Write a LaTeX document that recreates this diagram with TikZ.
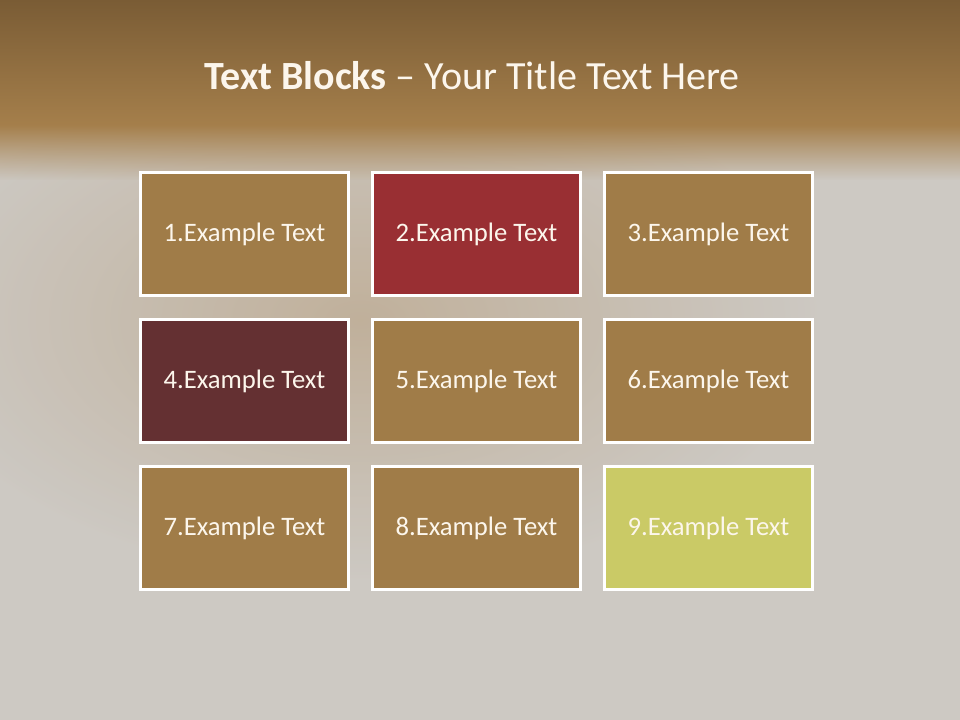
\documentclass[tikz,border=0pt]{standalone}
\usepackage{fontspec}
\setmainfont{Carlito}
\usetikzlibrary{positioning,fadings}
\definecolor{caskbrown}{RGB}{160,124,72}
\definecolor{caskred}{RGB}{153,47,51}
\definecolor{caskmaroon}{RGB}{100,48,50}
\definecolor{caskolive}{RGB}{202,202,102}
\definecolor{bandtop}{RGB}{122,92,53}
\definecolor{bandbottom}{RGB}{165,127,75}
\definecolor{fog}{RGB}{205,201,195}
\definecolor{haze}{RGB}{182,156,122}
\definecolor{cream}{RGB}{252,246,236}

\begin{document}
\begin{tikzpicture}[
      x=0.75pt, y=-0.75pt,
      node distance=15.75pt and 15.75pt,
      block/.style={rectangle, draw=white, line width=2.25pt, inner sep=0pt, minimum width=156pt, minimum height=92.25pt, text=cream, font=\fontsize{20}{24}\selectfont},
      heading/.style={text=cream, font=\fontsize{30}{36}\selectfont}
    ]
      % background
      \useasboundingbox (0,0) rectangle (960,720);
      \fill[fog] (0,0) rectangle (960,720);
      \shade[inner color=haze, outer color=fog, opacity=0.55] (360,320) ellipse [x radius=460, y radius=260];
      \shade[top color=bandtop, bottom color=bandbottom] (0,0) rectangle (960,126);
      \fill[bandbottom, path fading=south] (0,125) rectangle (960,180);

      \node[heading] (title) at (472,76) {\textbf{Text Blocks} – Your Title Text Here};

      \node[block, fill=caskbrown] (b1) at (244.5,234) {1.Example Text};
      \node[block, fill=caskred, right=of b1] (b2) {2.Example Text};
      \node[block, fill=caskbrown, right=of b2] (b3) {3.Example Text};

      \node[block, fill=caskmaroon, below=of b1] (b4) {4.Example Text};
      \node[block, fill=caskbrown, right=of b4] (b5) {5.Example Text};
      \node[block, fill=caskbrown, right=of b5] (b6) {6.Example Text};

      \node[block, fill=caskbrown, below=of b4] (b7) {7.Example Text};
      \node[block, fill=caskbrown, right=of b7] (b8) {8.Example Text};
      \node[block, fill=caskolive, right=of b8] (b9) {9.Example Text};
    \end{tikzpicture}
\end{document}
